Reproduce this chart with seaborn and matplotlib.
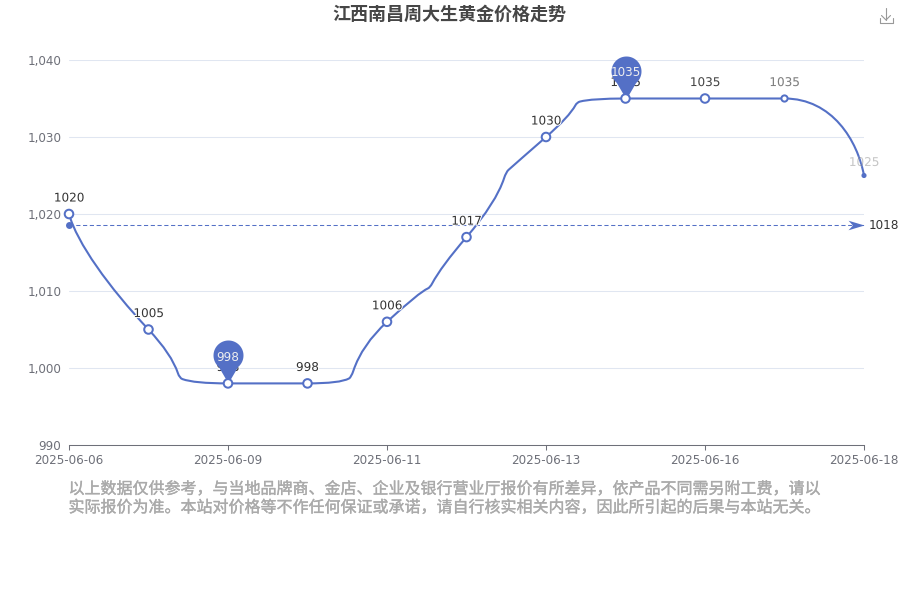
import matplotlib
matplotlib.use('Agg')
import numpy as np
import pandas as pd
import seaborn as sns
import matplotlib.pyplot as plt
import matplotlib.patheffects as pe
from matplotlib.lines import Line2D
from matplotlib.patches import PathPatch
from matplotlib.path import Path

# Data
dates = ['2025-06-06', '2025-06-07', '2025-06-09', '2025-06-10', '2025-06-11', '2025-06-12',
         '2025-06-13', '2025-06-15', '2025-06-16', '2025-06-17', '2025-06-18']
prices = [1020, 1005, 998, 998, 1006, 1017, 1030, 1035, 1035, 1035, 1025]
y_ticks = [990, 1000, 1010, 1020, 1030, 1040]
pin_dates = ['2025-06-09', '2025-06-15']
title = '江西南昌周大生黄金价格走势'
note = ('以上数据仅供参考，与当地品牌商、金店、企业及银行营业厅报价有所差异，依产品不同需另附工费，请以\n'
        '实际报价为准。本站对价格等不作任何保证或承诺，请自行核实相关内容，因此所引起的后果与本站无关。')

BLUE = '#5470c6'
AXIS = '#6e7079'
GRID = '#e0e6f1'

# the last points are still fading in
point_size = [38] * 9 + [20, 5]
label_alpha = [1] * 8 + [0.9, 0.5, 0.16]
label_lift = [11.5] * 10 + [9.4]

sns.set_theme(style='white')
plt.rcParams['font.family'] = ['DejaVu Sans', 'Noto Sans CJK SC']


def curve_path(values):
    # Smooth line with a soft corner in every segment, built from the values only
    y = np.array(values, dtype=float)
    d = np.diff(y)
    tang = np.zeros(len(y))
    for i in range(1, len(y) - 1):
        if d[i - 1] != 0 and d[i] != 0:
            tang[i] = (d[i - 1] + d[i]) / 2

    verts = [(0, y[0])]
    codes = [Path.MOVETO]
    for i in range(len(d)):
        x0, x1 = i, i + 1
        if i == 0:
            verts += [(x0 + 0.1, y[0] + 0.25 * d[0]), (x1 - 0.5, y[1] - 0.5 * tang[1]), (x1, y[1])]
            codes += [Path.CURVE4] * 3
        elif i == len(d) - 1:
            verts += [(x0 + 0.6, y[i]), (x1 - 0.08, y[i + 1] - 0.45 * d[i]), (x1, y[i + 1])]
            codes += [Path.CURVE4] * 3
        elif d[i] == 0:
            verts.append((x1, y[i + 1]))
            codes.append(Path.LINETO)
        else:
            r = abs(d[i - 1]) / (abs(d[i - 1]) + abs(d[i + 1]))
            m = np.array([x0 + 0.55 - 0.16 * r ** 3, y[i] + (0.1 + 0.8 * r) * d[i]])
            h0 = 0.75 * (m[0] - x0)
            h1 = 0.7 * (x1 - m[0])
            c0 = np.array([x0 + h0, y[i] + h0 * tang[i]])
            c1 = np.array([x1 - h1, y[i + 1] - h1 * tang[i + 1]])
            # round the corner a little
            p0 = m + 0.2 * (c0 - m)
            p1 = m + 0.2 * (c1 - m)
            verts += [tuple(c0), tuple(p0), tuple(m), tuple(p1), tuple(c1), (x1, y[i + 1])]
            codes += [Path.CURVE3] * 6
    return Path(verts, codes)


def pin_marker():
    # Map pin, tip at the origin
    angles = np.radians(np.linspace(-50, 230, 60))
    cy = 28 / 15
    pts = [(0, 0)] + [(np.cos(a), cy + np.sin(a)) for a in angles] + [(0, 0)]
    return Path(pts, closed=True)


arrow_marker = Path([(0, 0), (-1, 0.3), (-0.72, 0), (-1, -0.3), (0, 0)], closed=True)

df = pd.DataFrame({'date': dates, 'price': prices})
df['idx'] = range(len(df))
mean_price = df['price'].mean()

fig = plt.figure(figsize=(9, 6), dpi=100)
ax = fig.add_axes([69 / 900, 1 - 445 / 600, 795 / 900, 385 / 600])
ax.set_xlim(0, len(df) - 1)
ax.set_ylim(990, 1040)

# Grid and axes
ax.set_yticks(y_ticks)
ax.set_yticklabels([f'{v:,}' for v in y_ticks])
ax.set_xticks(df['idx'][::2])
ax.set_xticklabels(df['date'][::2])
ax.grid(axis='y', color=GRID, lw=0.75)
ax.set_axisbelow(True)
for side in ['top', 'right', 'left']:
    ax.spines[side].set_visible(False)
ax.spines['bottom'].set_color(AXIS)
ax.spines['bottom'].set_linewidth(0.75)
ax.tick_params(axis='x', bottom=True, colors=AXIS, labelsize=8.64, length=3.6, width=0.75, pad=3)
ax.tick_params(axis='y', colors=AXIS, labelsize=8.64, length=0, pad=5.5)
for lab in ax.get_yticklabels():
    lab.set_verticalalignment('center_baseline')

# Price line
ax.add_patch(PathPatch(curve_path(prices), fc='none', ec=BLUE, lw=1.5, zorder=3, clip_on=False))

# Average line
ax.plot([0, len(df) - 1], [mean_price, mean_price], color=BLUE, lw=0.75, ls=(0, (4, 2.5)), zorder=2)
ax.plot([0], [mean_price], 'o', color=BLUE, ms=5, mew=0, clip_on=False, zorder=3)
ax.plot([len(df) - 1], [mean_price], marker=arrow_marker, color=BLUE, ms=23, mew=0, clip_on=False, zorder=3)
ax.annotate(f'{int(mean_price)}', (len(df) - 1, mean_price), xytext=(3.6, 0), textcoords='offset points',
            va='center', ha='left', fontsize=8.64, color='#333333')

# Value labels
halo = [pe.withStroke(linewidth=1.5, foreground='white')]
for row, alpha, lift in zip(df.itertuples(), label_alpha, label_lift):
    ax.annotate(str(row.price), (row.idx, row.price), xytext=(0, lift), textcoords='offset points',
                ha='center', va='center', fontsize=8.64, color='#333333', alpha=alpha, zorder=4,
                path_effects=halo)

# Pins for the extremes
pins = df[df['date'].isin(pin_dates)]
ax.plot(pins['idx'], pins['price'], ls='none', marker=pin_marker(), ms=61.9, color=BLUE, mew=0,
        clip_on=False, zorder=5)
for row in pins.itertuples():
    ax.annotate(str(row.price), (row.idx, row.price), xytext=(0, 19), textcoords='offset points',
                ha='center', va='center', fontsize=8.64, color='#eeeeee', zorder=7)

# Points
face = ['white'] * (len(df) - 1) + [BLUE]
sns.scatterplot(data=df, x='idx', y='price', s=point_size, c=face, edgecolor=BLUE, linewidth=1.44,
                clip_on=False, zorder=6, ax=ax, legend=False)
ax.set_xlabel('')
ax.set_ylabel('')

fig.text(449.5 / 900, 1 - 14 / 600, title, ha='center', va='center', fontsize=13,
         fontweight='bold', color='#464646', family=['Noto Sans CJK SC', 'DejaVu Sans'])
fig.text(68.5 / 900, 1 - 498.5 / 600, note, ha='left', va='center', fontsize=11.52, color='#aaaaaa',
         linespacing=1.12, family=['Noto Sans CJK SC', 'DejaVu Sans'],
         path_effects=[pe.withStroke(linewidth=0.25, foreground='#aaaaaa')])

# Download icon of the toolbox
W, H = 900, 600
icon = [([886, 886], [8, 20]), ([881.5, 886, 890.5], [15.5, 20, 15.5]), ([879.5, 879.5, 892.5, 892.5], [18, 22.5, 22.5, 18])]
for xs, ys in icon:
    fig.add_artist(Line2D(np.array(xs) / W, 1 - np.array(ys) / H, color='#999999', lw=0.8))

fig.savefig('out.png', dpi=100)
